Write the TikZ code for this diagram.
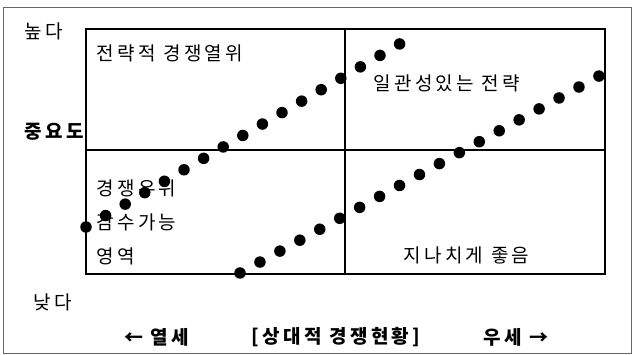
\documentclass[tikz,border=0pt]{standalone}
\usepackage{fontspec}
\newfontfamily\kr[LetterSpace=18]{Noto Sans CJK KR}
\tikzset{
  frame/.style={draw=black!60, line width=0.8pt},
  quad/.style={draw, line width=1.8pt},
  word/.style={inner sep=0pt, font=\kr\fontsize{19}{21}\selectfont},
  bold word/.style={word, font=\kr\bfseries\fontsize{19}{21}\selectfont},
  dot/.style={circle, fill, inner sep=0pt, minimum size=11.5pt}
}
\begin{document}
\begin{tikzpicture}[x=1pt, y=-1pt]
  \useasboundingbox (0,0) rectangle (632,355);
  \draw[frame] (3,7) rectangle (631,353);

  % axis words
  \node[word] (high) at (44,31) {높다};
  \node[bold word, anchor=west] (imp) at (24,132) {중요도};
  \node[word] (low) at (53,302) {낮다};

  % the four quadrants
  \coordinate (bl) at (86,274);
  \coordinate (tr) at (605,29);
  \coordinate (mid) at (345,150);
  \draw[quad] (bl) rectangle (tr);
  \draw[quad] (bl |- mid) -- (tr |- mid);
  \draw[quad] (mid |- bl) -- (mid |- tr);

  \node[word, anchor=west] (q1) at (96,53) {전략적 경쟁열위};
  \node[word, anchor=west] (q2) at (373,83) {일관성있는 전략};
  \node[word, anchor=west] (q3a) at (96,188) {경쟁우위};
  \node[word, anchor=west] (q3b) at (96,222) {감수가능};
  \node[word, anchor=west] (q3c) at (96,256) {영역};
  \node[word, anchor=west] (q4) at (403,255) {지나치게 좋음};

  % relative position
  \node[bold word, anchor=west] (weak) at (124,337) {← 열세};
  \node[bold word, anchor=west] (axis) at (251,337) {[상대적 경쟁현황]};
  \node[bold word, anchor=west] (strong) at (483,337) {우세 →};

  % the two dotted lines
  \foreach \i in {0,...,16}
    \node[dot] (a\i) at (86+19.6*\i, 227-11.44*\i) {};
  \foreach \i in {0,...,18}
    \node[dot] (b\i) at (240+19.94*\i, 273-10.94*\i) {};
\end{tikzpicture}
\end{document}
